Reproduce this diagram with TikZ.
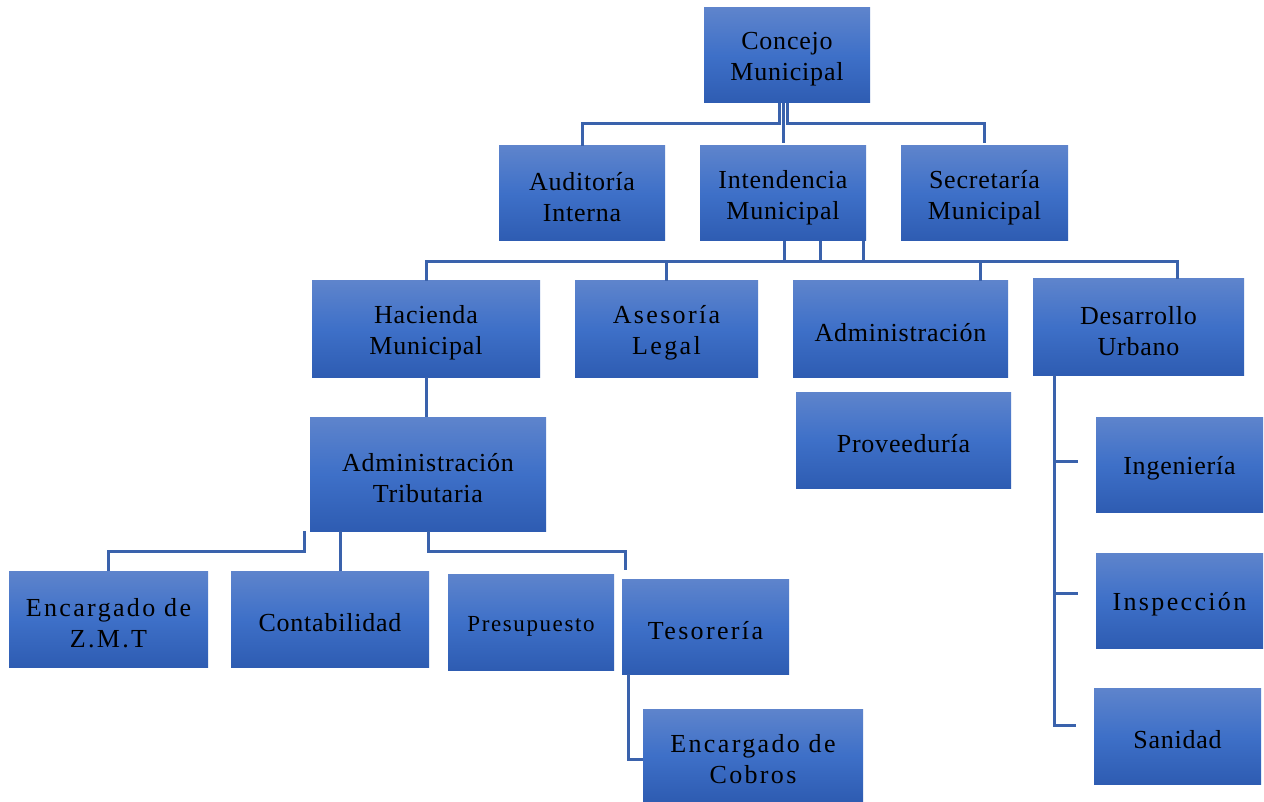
\documentclass[tikz,border=0pt]{standalone}
\usepackage{fontspec}
\setmainfont{Liberation Serif}[LetterSpace=3]
\newfontfamily\widefont{Liberation Serif}[LetterSpace=9]
\definecolor{linec}{RGB}{58,98,172}
\definecolor{boxtop}{RGB}{94,132,204}
\definecolor{boxmid}{RGB}{62,112,200}
\definecolor{boxbot}{RGB}{46,92,178}
\begin{document}
\begin{tikzpicture}[x=1pt,y=-1pt,
  orgbox/.style={rectangle, inner sep=0pt,
    top color=boxtop, bottom color=boxbot, middle color=boxmid},
  orgtext/.style={inner sep=0pt, align=center, text=black,
    font=\fontsize{26}{31}\selectfont},
  conn/.style={draw=linec, line width=3pt}]
\useasboundingbox (0,0) rectangle (1264,802);
\fill[white] (0,0) rectangle (1264,802);
\newcommand{\bx}[6]{\node[orgbox, minimum width=#4pt, minimum height=#5pt] (#1) at (#2,#3) {};
  \node[orgtext] (#1-t) at ([yshift=-4pt]#1.center) {#6};}
\bx{concejo}{787}{55.5}{166}{95}{Concejo\\Municipal}
\bx{auditoria}{582}{193.5}{166}{95}{Auditoría\\Interna}
\bx{intendencia}{783}{193.5}{166}{95}{Intendencia\\Municipal}
\bx{secretaria}{984.5}{193.5}{167}{95}{Secretaría\\Municipal}
\bx{hacienda}{426}{329}{228}{96}{Hacienda\\Municipal}
\bx{asesoria}{666.5}{329}{183}{96}{\widefont Asesoría\\\widefont Legal}
\bx{administracion}{900.5}{329}{215}{96}{Administración}
\bx{desarrollo}{1138.5}{327}{211}{96}{Desarrollo\\Urbano}
\bx{proveeduria}{903.5}{440}{215}{96}{Proveeduría}
\bx{tributaria}{428}{474}{236}{114}{Administración\\Tributaria}
\bx{zmt}{108.5}{619}{199}{96}{\widefont Encargado de\\\widefont Z.M.T}
\bx{contabilidad}{330}{619}{198}{96}{Contabilidad}
\bx{presupuesto}{531}{622}{166}{96}{\fontsize{23}{27}\selectfont\addfontfeature{LetterSpace=7}Presupuesto}
\bx{tesoreria}{705.5}{626.5}{167}{95}{\widefont Tesorería}
\bx{cobros}{753}{755}{220}{92}{\widefont Encargado de\\\widefont Cobros}
\bx{ingenieria}{1179.5}{464.5}{167}{95}{Ingeniería}
\bx{inspeccion}{1179.5}{600.5}{167}{95}{\widefont Inspección}
\bx{sanidad}{1177.5}{736}{167}{96}{Sanidad}
% Concejo connectors
\draw[conn] ([xshift=-8pt]concejo.south) -- ++(0,20) -| (auditoria.north);
\draw[conn] ([xshift=-4pt]concejo.south) -- ([yshift=3pt]intendencia.north);
\draw[conn] (concejo.south) -- ++(0,20) -| ([yshift=3pt]secretaria.north);
% Intendencia connectors
\draw[conn] ([xshift=1pt]intendencia.south) -- ++(0,20) coordinate (bus);
\draw[conn] ([xshift=37pt]intendencia.south) -- ++(0,20);
\draw[conn] ([xshift=80pt]intendencia.south) -- ++(0,20);
\draw[conn] (hacienda.north) -- (hacienda.north |- bus) -- ([xshift=38.5pt]desarrollo.north |- bus) -- ([xshift=38.5pt]desarrollo.north);
\draw[conn] (asesoria.north) -- (asesoria.north |- bus);
\draw[conn] ([xshift=79.5pt]administracion.north) -- ([xshift=79.5pt]administracion.north |- bus);
% Hacienda
\draw[conn] (hacienda.south) -- (hacienda.south |- tributaria.north);
% Tributaria
\draw[conn] ([xshift=-5pt]tributaria.south west) -- ++(0,20) -| (zmt.north);
\draw[conn] ([xshift=31pt]tributaria.south west) -- ([xshift=31pt]tributaria.south west |- contabilidad.north);
\draw[conn] (tributaria.south) -- ++(0,20) -| ([xshift=-80.5pt,yshift=9pt]tesoreria.north);
% Tesoreria
\draw[conn] ([xshift=7pt]tesoreria.south west) |- ([yshift=-4pt]cobros.west);
% Desarrollo
\coordinate (t1) at ([xshift=-18pt,yshift=3.5pt]ingenieria.west);
\coordinate (t2) at ([xshift=-18pt,yshift=7.5pt]inspeccion.west);
\coordinate (t3) at ([xshift=-18pt,yshift=11pt]sanidad.west);
\draw[conn] ([xshift=22pt]desarrollo.south west) coordinate (dtop) |- (t3);
\draw[conn] (dtop |- t1) -- (t1);
\draw[conn] (dtop |- t2) -- (t2);
\end{tikzpicture}
\end{document}
